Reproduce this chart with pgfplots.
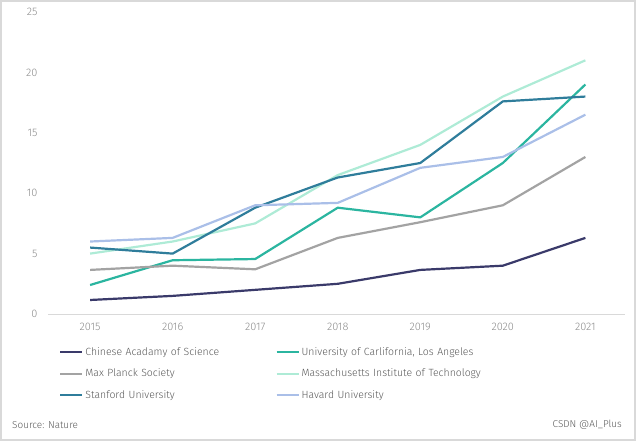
\documentclass[border=0pt]{standalone}
\usepackage{pgfplots}
\pgfplotsset{compat=1.18}
\usepackage{fontspec}
\setmainfont{Fira Sans}[UprightFont=* Light]
\definecolor{cas}{HTML}{3A3A6A}
\definecolor{ucla}{HTML}{2BB5A0}
\definecolor{mpg}{HTML}{A3A3A3}
\definecolor{mit}{HTML}{AEEBD6}
\definecolor{stan}{HTML}{2F7D9B}
\definecolor{harv}{HTML}{AABFE8}
\definecolor{frame}{HTML}{D9D9D9}
\definecolor{tickc}{HTML}{8C8C8C}
\definecolor{legc}{HTML}{595959}
\begin{document}
\begin{tikzpicture}
\useasboundingbox (0,0) rectangle (636bp,-441bp);
\draw[color=frame, line width=2bp] (1bp,-1bp) rectangle (635bp,-440bp);
\begin{axis}[
  at={(48bp,-314bp)}, anchor=south west,
  scale only axis, width=577bp, height=302bp,
  xmin=2014.49, xmax=2021.48, ymin=0, ymax=25,
  axis x line=bottom, axis y line=left,
  y axis line style={draw=none},
  x axis line style={color=frame, line width=1bp, -},
  major tick length=0pt,
  xtick={2015,...,2021}, ytick={0,5,...,25},
  /pgf/number format/1000 sep={},
  /pgf/number format/assume math mode=true,
  tick label style={color=tickc, font=\fontsize{11}{13}\selectfont},
  xticklabel style={yshift=-6bp},
  yticklabel style={xshift=-7bp},
  clip=false,
  every axis plot/.append style={line width=2.2bp, line join=round},
  legend columns=2,
  legend style={at={(0.0139,-0.1026)}, anchor=north west, draw=none, fill=none,
    font=\fontsize{10.5}{12}\selectfont, text=legc,
    nodes={inner xsep=2bp, inner ysep=0pt, text width=188bp, align=left, text height=8bp, text depth=2bp},
    row sep=11.5bp, column sep=0pt},
  legend cell align=left,
  legend image code/.code={\draw[#1] (0bp,0bp) -- (22bp,0bp);},
]
\addplot[color=cas] coordinates {(2015,1.16) (2016,1.5) (2017,2.0) (2018,2.5) (2019,3.65) (2020,4.0) (2021,6.3)};
\addlegendentry{Chinese Acadamy of Science}
\addplot[color=ucla] coordinates {(2015,2.4) (2016,4.45) (2017,4.55) (2018,8.8) (2019,8.0) (2020,12.5) (2021,19.0)};
\addlegendentry{University of Carlifornia, Los Angeles}
\addplot[color=mpg] coordinates {(2015,3.65) (2016,4.0) (2017,3.7) (2018,6.3) (2019,7.6) (2020,9.0) (2021,13.0)};
\addlegendentry{Max Planck Society}
\addplot[color=mit] coordinates {(2015,5.0) (2016,6.0) (2017,7.5) (2018,11.5) (2019,14.0) (2020,18.0) (2021,21.0)};
\addlegendentry{Massachusetts Institute of Technology}
\addplot[color=stan] coordinates {(2015,5.5) (2016,5.0) (2017,8.8) (2018,11.3) (2019,12.5) (2020,17.6) (2021,18.0)};
\addlegendentry{Stanford University}
\addplot[color=harv] coordinates {(2015,6.0) (2016,6.3) (2017,9.0) (2018,9.2) (2019,12.1) (2020,13.0) (2021,16.5)};
\addlegendentry{Havard University}
\end{axis}
\node[anchor=west, text=legc, font=\fontsize{10}{12}\selectfont, inner sep=0pt] at (12bp,-425bp) {Source: Nature};
\node[anchor=east, text=legc, font=\fontsize{10}{12}\selectfont, inner sep=0pt] at (622bp,-425bp) {CSDN @AI\_Plus};
\end{tikzpicture}
\end{document}
